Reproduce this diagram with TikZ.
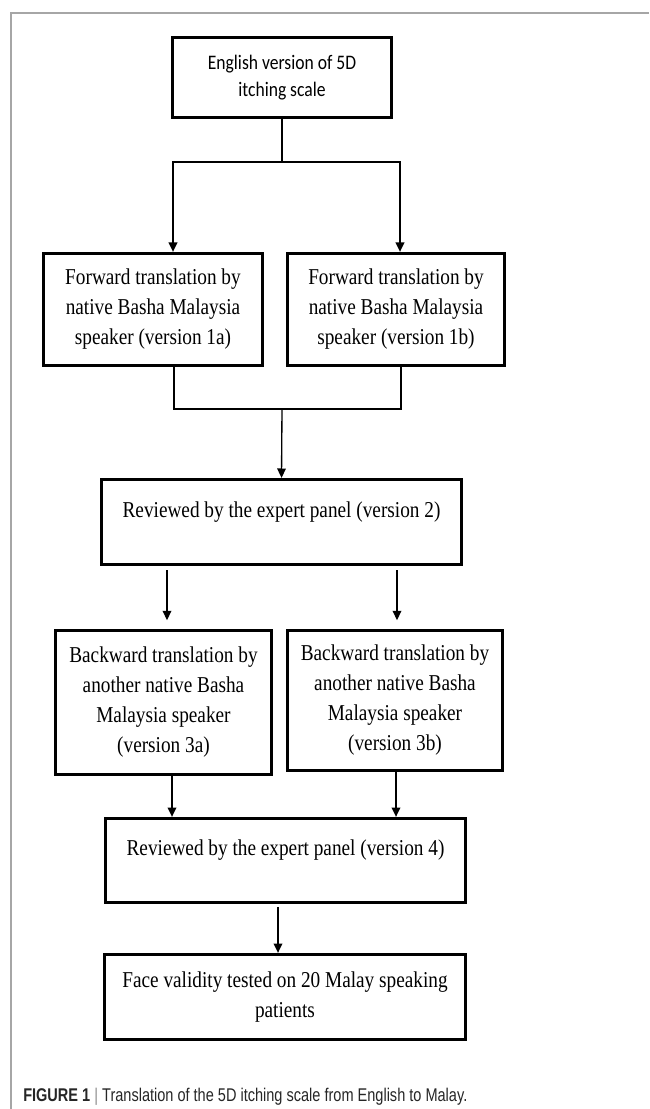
\documentclass[tikz,border=0pt]{standalone}
\usepackage{fontspec}
\usepackage{tikz}
\usetikzlibrary{arrows.meta,calc,positioning}
\newfontfamily\boxfont{Liberation Serif}[FakeStretch=0.85]
\newfontfamily\engfont{Carlito}[FakeStretch=0.85]
\newfontfamily\capfont{Liberation Sans}[FakeStretch=0.79]
\tikzset{
  stage/.style={draw=black, line width=2.5pt, rectangle, align=center, inner sep=2pt, fill=white,
    font=\boxfont\fontsize{17pt}{22.5pt}\selectfont},
  raised/.style={text height=12pt, text depth=19pt},
  link/.style={draw=black, line width=1pt},
  flow/.style={->, line width=1pt, draw=black, >={Triangle[length=7pt, width=6.5pt]}},
  frame/.style={draw=black!35, line width=1.5pt}
}

\begin{document}
\begin{tikzpicture}[x=0.75pt, y=-0.75pt]
  \useasboundingbox (0,0) rectangle (649,1109);
  \draw[frame] (11,1109) -- (11,13) -- (649,13);

  \node[stage, minimum width=164pt, minimum height=60pt, font=\engfont\fontsize{15.5pt}{20.25pt}\selectfont] (eng) at (282,77.5) {English version of 5D\\itching scale};
  \node[stage, minimum width=164pt, minimum height=84pt] (fwdA) at (153,309.5) {Forward translation by\\native Basha Malaysia\\speaker (version 1a)};
  \node[stage, minimum width=162.75pt, minimum height=84pt] (fwdB) at (396,309.5) {Forward translation by\\native Basha Malaysia\\speaker (version 1b)};
  \node[stage, raised, minimum width=270pt, minimum height=63.75pt] (rev2) at (281.5,522) {Reviewed by the expert panel (version 2)};
  \node[stage, minimum width=162pt, minimum height=108pt] (bwdA) at (163.5,702.5) {Backward translation by\\another native Basha\\Malaysia speaker\\(version 3a)};
  \node[stage, minimum width=161.25pt, minimum height=105pt] (bwdB) at (395,700.5) {Backward translation by\\another native Basha\\Malaysia speaker\\(version 3b)};
  \node[stage, raised, minimum width=270pt, minimum height=63pt] (rev4) at (285.5,860.5) {Reviewed by the expert panel (version 4)};
  \node[stage, minimum width=270.75pt, minimum height=63.75pt] (face) at (285,997) {Face validity tested on 20 Malay speaking\\patients};

  \coordinate (split1) at (282,162);
  \coordinate (merge1) at (282,409);

  \draw[link] (eng.south) -- (split1);
  \draw[flow] (split1) -| ($(fwdA.north)+(20,0)$);
  \draw[flow] (split1) -| ($(fwdB.north)+(4,0)$);

  \draw[link] ($(fwdA.south)+(21,0)$) |- (merge1) -| ($(fwdB.south)+(5,0)$);
  \draw[flow] (merge1) -- (rev2.north);

  \draw[flow, shorten <=3pt, shorten >=6.5pt] ($(rev2.south)+(-114.5,0)$) -- ($(bwdA.north)+(3.5,0)$);
  \draw[flow, shorten <=3pt, shorten >=6.5pt] ($(rev2.south)+(115.5,0)$) -- ($(bwdB.north)+(2,0)$);

  \draw[flow] ($(bwdA.south)+(8.5,0)$) -- ($(rev4.north)+(-113.5,0)$);
  \draw[flow] ($(bwdB.south)+(1,0)$) -- ($(rev4.north)+(110.5,0)$);

  \draw[flow, shorten <=2pt] ($(rev4.south)+(-7.5,0)$) -- ($(face.north)+(-7,0)$);

  \node[anchor=base west, inner sep=0pt, text=black!85, font=\capfont\fontsize{13.8pt}{16pt}\selectfont] (caption) at (23,1101)
    {\textbf{FIGURE 1} {\color{black!45}|} Translation of the 5D itching scale from English to Malay.};
\end{tikzpicture}
\end{document}
